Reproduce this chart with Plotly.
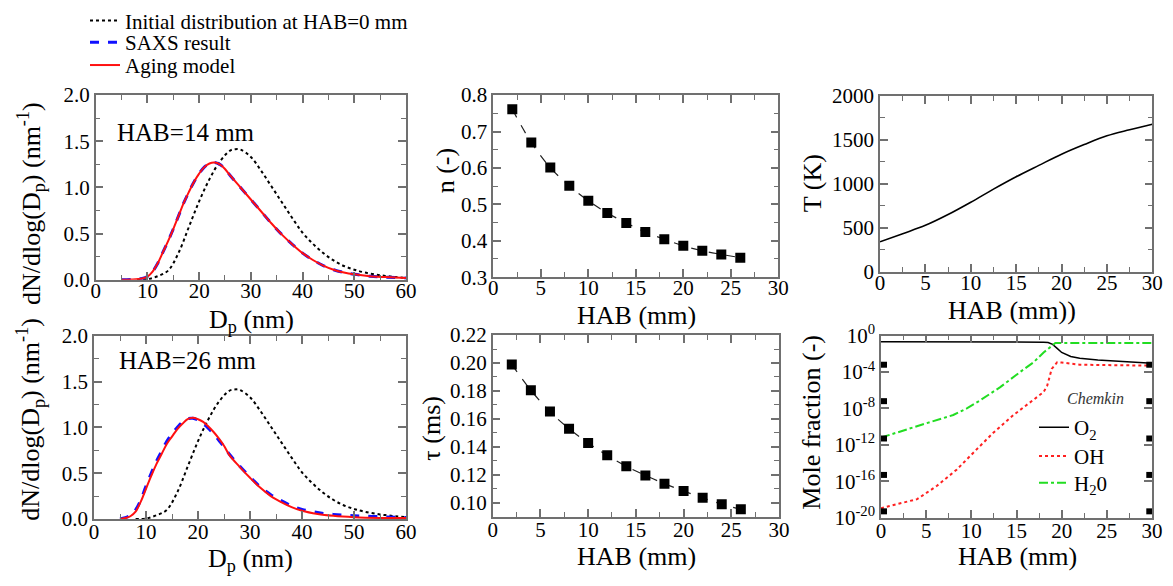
import plotly.graph_objects as go

W, H = 1173, 586
FONT = "Liberation Serif"

# ---------------- data ----------------
# Size distributions (Dp in nm, dN/dlog(Dp) in nm^-1)
dp_init = [8, 10, 12, 14, 16, 18, 20, 22, 24, 26, 27, 28, 30, 32, 34, 36, 38, 40,
           42, 44, 46, 48, 50, 52, 55, 58, 60]
init_dist = [0.0, 0.005, 0.04, 0.10, 0.29, 0.57, 0.85, 1.09, 1.28, 1.40, 1.415, 1.41,
             1.33, 1.18, 1.01, 0.84, 0.67, 0.51, 0.39, 0.29, 0.21, 0.15, 0.11, 0.08,
             0.05, 0.03, 0.02]

dp_14 = [5, 7, 9, 10, 11, 12, 13, 14, 15, 16, 17, 18, 19, 20, 21, 22, 23, 24, 25, 26,
         28, 30, 32, 34, 36, 38, 40, 42, 44, 46, 48, 50, 53, 56, 60]
aging_14 = [0.0, 0.003, 0.015, 0.035, 0.09, 0.18, 0.30, 0.42, 0.55, 0.69, 0.83, 0.95,
            1.06, 1.15, 1.22, 1.26, 1.27, 1.25, 1.20, 1.13, 1.00, 0.87, 0.74, 0.61,
            0.49, 0.385, 0.29, 0.215, 0.155, 0.11, 0.08, 0.06, 0.04, 0.03, 0.02]
saxs_14 = [0.0, 0.004, 0.016, 0.036, 0.09, 0.18, 0.30, 0.42, 0.55, 0.69, 0.83, 0.95,
           1.06, 1.15, 1.22, 1.26, 1.27, 1.25, 1.20, 1.13, 1.00, 0.87, 0.74, 0.61,
           0.49, 0.385, 0.29, 0.215, 0.155, 0.11, 0.08, 0.06, 0.04, 0.03, 0.02]

dp_26 = [5, 6, 7, 8, 9, 10, 11, 12, 13, 14, 15, 16, 17, 18, 19, 20, 21, 22, 23, 24,
         25, 26, 28, 30, 32, 34, 36, 38, 40, 43, 46, 50, 55, 60]
aging_26 = [0.0, 0.01, 0.03, 0.08, 0.19, 0.33, 0.47, 0.60, 0.71, 0.82, 0.90, 0.98,
            1.04, 1.09, 1.105, 1.09, 1.06, 1.01, 0.95, 0.88, 0.80, 0.70, 0.57, 0.45,
            0.34, 0.25, 0.185, 0.13, 0.09, 0.055, 0.035, 0.02, 0.012, 0.01]
saxs_26 = [0.0, 0.015, 0.04, 0.10, 0.21, 0.36, 0.50, 0.63, 0.74, 0.85, 0.93, 1.00,
           1.06, 1.095, 1.10, 1.08, 1.04, 0.99, 0.93, 0.86, 0.79, 0.71, 0.58, 0.46,
           0.35, 0.265, 0.20, 0.145, 0.105, 0.07, 0.05, 0.035, 0.025, 0.015]

# Fitted parameters vs HAB
hab_fit = [2, 4, 6, 8, 10, 12, 14, 16, 18, 20, 22, 24, 26]
n_vals = [0.761, 0.670, 0.601, 0.551, 0.510, 0.476, 0.449, 0.424, 0.404, 0.386,
          0.3725, 0.3625, 0.3535]
tau_vals = [0.199, 0.1805, 0.1652, 0.153, 0.1428, 0.1339, 0.1261, 0.1195, 0.1136,
            0.1084, 0.1035, 0.099, 0.0953]

# Temperature profile
hab_T = [0, 2.5, 5, 7.5, 10, 12.5, 15, 17.5, 20, 22.5, 25, 27.5, 30]
T_vals = [338, 431, 526, 649, 789, 938, 1079, 1208, 1335, 1445, 1545, 1614, 1677]

# Mole fractions (Chemkin)
hab_o2 = [0, 5, 10, 15, 17, 18, 18.5, 19, 19.5, 20, 21, 22, 24, 26, 28, 30]
o2 = [0.21, 0.21, 0.21, 0.21, 0.205, 0.19, 0.17, 0.11, 0.04, 0.014, 5e-3, 3.2e-3,
      2.1e-3, 1.6e-3, 1.2e-3, 9e-4]
hab_oh = [0, 4, 6.2, 8.4, 10.2, 12.4, 14.7, 16.9, 18, 18.4, 18.9, 19.5, 20, 22, 25, 30]
oh = [1.1e-19, 1.1e-18, 3.2e-17, 2e-15, 1.3e-13, 2e-11, 2e-9, 8e-8, 6.3e-7, 3.2e-6,
      2.2e-4, 1.2e-3, 1.1e-3, 6.3e-4, 5.6e-4, 5e-4]
hab_h2o = [0, 2.5, 5, 8, 9.5, 11, 13.2, 15.4, 16.9, 18, 18.7, 19.3, 20, 25, 30]
h2o = [6.3e-12, 4e-11, 2.3e-10, 1.9e-9, 1e-8, 8e-8, 2.2e-6, 1e-4, 1.2e-3, 1.4e-2,
       5e-2, 0.15, 0.15, 0.15, 0.15]
edge_x = [0.33, 29.7]
edge_y = [6.3e-4, 6.3e-8, 5e-12, 5e-16, 5e-20]

log_ticks = [1e-20, 1e-16, 1e-12, 1e-8, 1e-4, 1]
log_labels = ["10<sup>-20</sup>", "10<sup>-16</sup>", "10<sup>-12</sup>",
              "10<sup>-8</sup>", "10<sup>-4</sup>", "10<sup>0</sup>"]

# ---------------- figure ----------------
fig = go.Figure()

INIT = dict(color="black", width=2, dash="dot")
SAXS = dict(color="#1010ff", width=3, dash="dash")
AGE = dict(color="#ff1010", width=2)

# Panel A (HAB = 14 mm)
fig.add_trace(go.Scatter(x=dp_init, y=init_dist, mode="lines", line=dict(**INIT, shape="spline"),
                         name="Initial distribution at HAB=0 mm", xaxis="x", yaxis="y",
                         legend="legend"))
fig.add_trace(go.Scatter(x=dp_14, y=saxs_14, mode="lines", line=dict(**SAXS, shape="spline"),
                         name="SAXS result", xaxis="x", yaxis="y", legend="legend2"))
fig.add_trace(go.Scatter(x=dp_14, y=aging_14, mode="lines", line=dict(**AGE, shape="spline"),
                         name="Aging model", xaxis="x", yaxis="y", legend="legend3"))
# Panel D (HAB = 26 mm)
fig.add_trace(go.Scatter(x=dp_init, y=init_dist, mode="lines", line=dict(**INIT, shape="spline"),
                         showlegend=False, xaxis="x4", yaxis="y4"))
fig.add_trace(go.Scatter(x=dp_26, y=saxs_26, mode="lines", line=dict(**SAXS, shape="spline"),
                         showlegend=False, xaxis="x4", yaxis="y4"))
fig.add_trace(go.Scatter(x=dp_26, y=aging_26, mode="lines", line=dict(**AGE, shape="spline"),
                         showlegend=False, xaxis="x4", yaxis="y4"))
# Panel B (n)
fig.add_trace(go.Scatter(x=hab_fit, y=n_vals, mode="lines+markers",
                         line=dict(color="#222", width=1.2, dash="dash", shape="spline"),
                         marker=dict(symbol="square", size=10, color="black"),
                         showlegend=False, xaxis="x2", yaxis="y2"))
# Panel E (tau)
fig.add_trace(go.Scatter(x=hab_fit, y=tau_vals, mode="lines+markers",
                         line=dict(color="#222", width=1.2, dash="dash", shape="spline"),
                         marker=dict(symbol="square", size=10, color="black"),
                         showlegend=False, xaxis="x5", yaxis="y5"))
# Panel C (T)
fig.add_trace(go.Scatter(x=hab_T, y=T_vals, mode="lines",
                         line=dict(color="black", width=1.6, shape="spline"),
                         showlegend=False, xaxis="x3", yaxis="y3"))
# Panel F (mole fractions)
fig.add_trace(go.Scatter(x=hab_o2, y=o2, mode="lines", line=dict(color="black", width=1.5),
                         name="O<sub>2</sub>", xaxis="x6", yaxis="y6", legend="legend4"))
fig.add_trace(go.Scatter(x=hab_oh, y=oh, mode="lines",
                         line=dict(color="#ff2020", width=2, dash="dot"),
                         name="OH", xaxis="x6", yaxis="y6", legend="legend5"))
fig.add_trace(go.Scatter(x=hab_h2o, y=h2o, mode="lines",
                         line=dict(color="#22dd22", width=2, dash="dashdot"),
                         name="H<sub>2</sub>0", xaxis="x6", yaxis="y6", legend="legend6"))
for ex in edge_x:
    fig.add_trace(go.Scatter(x=[ex] * len(edge_y), y=edge_y, mode="markers",
                             marker=dict(symbol="square", size=6, color="black"),
                             showlegend=False, xaxis="x6", yaxis="y6", cliponaxis=False))


def xd(l, r):
    return [l / W, r / W]


def yd(t, b):
    return [1 - b / H, 1 - t / H]


AXC = "#707070"


def axis(domain, rng, anchor, dtick=None, minor=None, **kw):
    d = dict(domain=domain, range=rng, anchor=anchor, showline=True, linecolor=AXC,
             linewidth=1.5, mirror="allticks", ticks="inside", ticklen=8, tickwidth=1.5,
             tickcolor=AXC, showgrid=False, zeroline=False, automargin=False,
             tickfont=dict(family=FONT, size=21, color="black"))
    if dtick is not None:
        d["dtick"] = dtick
    if minor is not None:
        d["minor"] = dict(ticks="inside", ticklen=5, tickwidth=1.2, tickcolor=AXC,
                          dtick=minor, showgrid=False)
    d.update(kw)
    return d


XS = -7  # pull x tick labels closer to the axis line

layout = dict(
    width=W, height=H, margin=dict(l=0, r=0, t=0, b=0),
    paper_bgcolor="white", plot_bgcolor="white", showlegend=True,
    xaxis=axis(xd(95.7, 406), [0, 60], "y", 10, 5, tick0=0, ticklabelstandoff=XS - 2),
    yaxis=axis(yd(90, 276.7), [0, 2.0001], "x", 0.5, 0.25, tickformat=".1f"),
    xaxis2=axis(xd(493.3, 778.3), [0, 30], "y2", 5, 2.5, ticklabelstandoff=XS - 2),
    yaxis2=axis(yd(90, 274), [0.2999, 0.8001], "x2", 0.1, 0.05, tickformat=".1f"),
    xaxis3=axis(xd(880, 1152.3), [0, 30], "y3", 5, 2.5, ticklabelstandoff=XS - 2),
    yaxis3=axis(yd(90.7, 268.3), [0, 2000], "x3", 500, 250),
    xaxis4=axis(xd(94, 406), [0, 60], "y4", 10, 5, ticklabelstandoff=XS),
    yaxis4=axis(yd(333.3, 518.3), [0, 2.0001], "x4", 0.5, 0.25, tickformat=".1f"),
    xaxis5=axis(xd(492.7, 779), [0, 30], "y5", 5, 2.5, ticklabelstandoff=XS),
    yaxis5=axis(yd(332.3, 516), [0.09, 0.2201], "x5", 0.02, 0.01, tick0=0.1,
                tickformat=".2f"),
    xaxis6=axis(xd(881, 1152), [0, 30], "y6", 5, 2.5, ticklabelstandoff=XS),
    yaxis6=axis(yd(333, 517), [-20, 0], "x6", type="log", tickmode="array",
                tickvals=log_ticks, ticktext=log_labels),
)


def leg(px, py, size):
    return dict(x=px / W, y=1 - py / H, xanchor="left", yanchor="middle",
                bgcolor="rgba(0,0,0,0)", borderwidth=0, itemwidth=30,
                font=dict(family=FONT, size=size, color="black"))


layout["legend"] = leg(85, 15, 21)
layout["legend2"] = leg(85, 37, 21)
layout["legend3"] = leg(85, 60, 21)
layout["legend4"] = leg(1034, 426, 21)
layout["legend5"] = leg(1034, 455, 21)
layout["legend6"] = leg(1034, 482, 21)


def ann(text, px, py, size=26, angle=0, xanchor="center", **kw):
    return dict(text=text, x=px / W, y=1 - py / H, xref="paper", yref="paper",
                showarrow=False, xanchor=xanchor, yanchor="middle", textangle=angle,
                font=dict(family=FONT, size=size, color=kw.pop("color", "black"), **kw))


annotations = [
    ann("HAB=14 mm", 115, 127.5, 25, xanchor="left"),
    ann("HAB=26 mm", 116.7, 358.3, 25, xanchor="left"),
    ann("<i>Chemkin</i>", 1095, 397, 16, color="#333"),
    # x titles
    ann("D<sub>p</sub> (nm)", 251, 318, 26),
    ann("D<sub>p</sub> (nm)", 250, 560, 26),
    ann("HAB (mm)", 636, 313, 26),
    ann("HAB (mm)", 636, 556, 26),
    ann("HAB (mm))", 1012, 308, 26),
    ann("HAB (mm)", 1017, 556, 26),
    # y titles
    ann("dN/dlog(D<sub>p</sub>) (nm<sup>-1</sup>)", 31, 200, 26, angle=-90),
    ann("dN/dlog(D<sub>p</sub>) (nm<sup>-1</sup>)", 30, 418, 26, angle=-90),
    ann("n (-)", 445, 167, 26, angle=-90),
    ann("τ (ms)", 432, 427, 26, angle=-90),
    ann("T (K)", 812, 179, 26, angle=-90),
    ann("Mole fraction (-)", 812, 421, 26, angle=-90),
]
layout["annotations"] = annotations

fig.update_layout(**layout)
fig.write_html("out.html")
